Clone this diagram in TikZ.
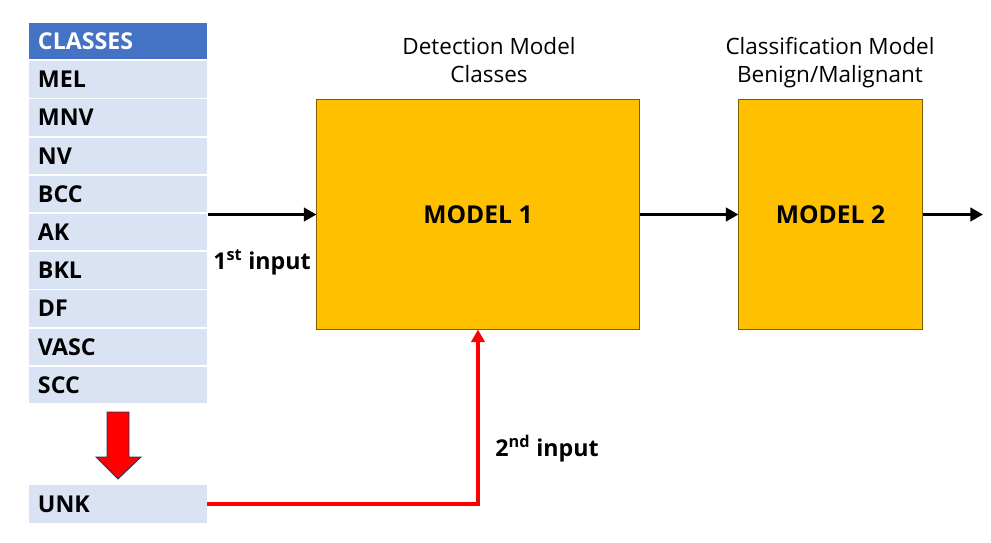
\documentclass[tikz,border=0pt]{standalone}
\usepackage{fontspec}
\setmainfont{Open Sans}
\usepackage{tikz}
\usetikzlibrary{arrows.meta,positioning}
\definecolor{tbhead}{RGB}{68,114,196}
\definecolor{tbcell}{RGB}{218,227,243}
\definecolor{mdgold}{RGB}{255,192,0}
\definecolor{mdedge}{RGB}{127,96,0}
\definecolor{arred}{RGB}{255,0,0}
\definecolor{arnavy}{RGB}{31,56,100}

\begin{document}
\begin{tikzpicture}[x=0.025cm, y=-0.025cm,
  cell/.style={fill=tbcell, minimum height=0.9125cm, text width=4cm,
    inner xsep=0.225cm, align=left, font=\fontsize{16.5}{20}\selectfont\bfseries},
  model/.style={fill=mdgold, draw=mdedge, line width=0.7pt,
    font=\fontsize{17.5}{21}\selectfont\bfseries},
  title/.style={align=center, font=\fontsize{16}{20}\selectfont},
  flow/.style={-{Triangle[length=9pt, width=9.5pt]}, line width=2.7pt}]
\useasboundingbox (0,0) rectangle (991,542);
% -- Left: class table --
\node[cell, fill=tbhead, text=white] (hd) at (118,41.2) {CLASSES};
\node[cell] (mel) at (118,79.4) {MEL};
\node[cell] (mnv) at (118,117.6) {MNV};
\node[cell] (nv) at (118,155.8) {NV};
\node[cell] (bcc) at (118,194) {BCC};
\node[cell] (ak) at (118,232.2) {AK};
\node[cell] (bkl) at (118,270.4) {BKL};
\node[cell] (df) at (118,308.6) {DF};
\node[cell] (vasc) at (118,346.8) {VASC};
\node[cell] (scc) at (118,385) {SCC};
\node[cell, minimum height=0.95cm] (unk) at (118,504) {UNK};
% Red block arrow
\draw[arnavy, fill=arred, line width=0.6pt]
  (107,412) -- (129,412) -- (129,457) -- (141,457) -- (118,479)
  -- (96,457) -- (107,457) -- cycle;
% -- Models --
\node[model, minimum width=8.05cm, minimum height=5.725cm] (m1) at (478,214.5) {MODEL 1};
\node[model, minimum width=4.575cm, minimum height=5.725cm] (m2) at (830.5,214.5) {MODEL 2};
\node[title] (t1) at (489,60) {Detection Model\\Classes};
\node[title] (t2) at (830,63) {Classification Model\\Benign/Malignant};
% -- Connections --
\coordinate (in1) at (208,214.5);
\coordinate (out) at (983,214.5);
\draw[flow] (in1) -- (m1.west);
\draw[flow] (m1.east) -- (m2.west);
\draw[flow] (m2.east) -- (out);
\draw[flow, arred, line width=3pt] (unk.east) -| (m1.south);
\node[font=\fontsize{16.5}{20}\selectfont\bfseries] (i1) at (262,262) {1\textsuperscript{st} input};
\node[font=\fontsize{16.5}{20}\selectfont\bfseries] (i2) at (547,449) {2\textsuperscript{nd} input};
\end{tikzpicture}
\end{document}
